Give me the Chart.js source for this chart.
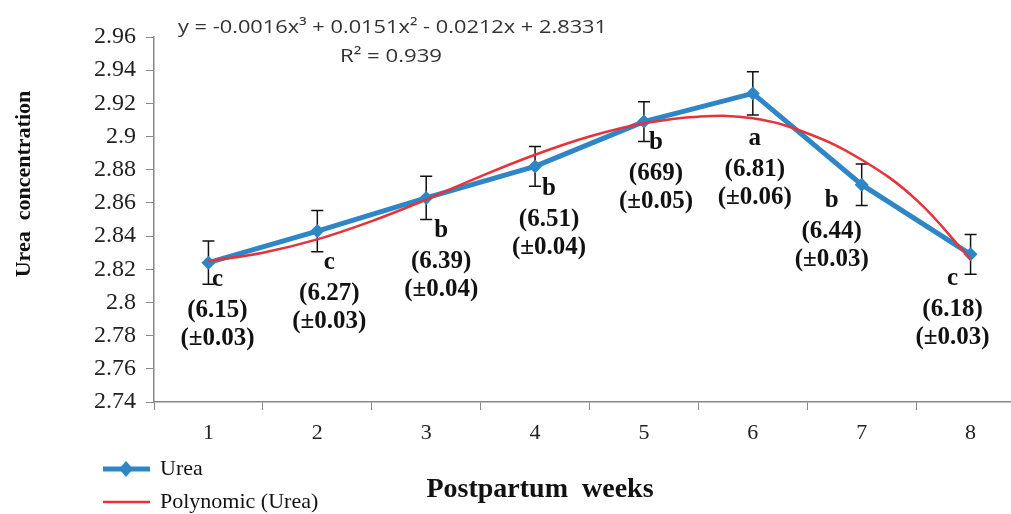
<!DOCTYPE html>
<html>
<head>
<meta charset="utf-8">
<script src="https://cdn.jsdelivr.net/npm/chart.js@4.4.0/dist/chart.umd.min.js"></script>
<style>
  html, body { margin: 0; padding: 0; background: #fff; overflow: hidden; }
  #wrap { width: 1011px; height: 514px; overflow: hidden; }
</style>
</head>
<body>
<div id="wrap"><canvas id="chart" width="1032" height="514"></canvas></div>
<script>
// Values
const weeks = ["1", "2", "3", "4", "5", "6", "7", "8"]
const urea = [2.824, 2.843, 2.863, 2.882, 2.909, 2.926, 2.871, 2.829]
const ureaErr = [0.013, 0.0125, 0.013, 0.012, 0.012, 0.013, 0.0125, 0.012]
const letters = ["c", "c", "b", "b", "b", "a", "b", "c"]
const means = ["(6.15)", "(6.27)", "(6.39)", "(6.51)", "(669)", "(6.81)", "(6.44)", "(6.18)"]
const sds = ["(±0.03)", "(±0.03)", "(±0.04)", "(±0.04)", "(±0.05)", "(±0.06)", "(±0.03)", "(±0.03)"]

// Polynomial trend line, read at half-week steps
const trendX = [1, 1.5, 2, 2.5, 3, 3.5, 4, 4.5, 5, 5.5, 6, 6.5, 7, 7.5, 8]
const trendY = [2.825, 2.830, 2.838, 2.849, 2.862, 2.876, 2.889, 2.900, 2.908, 2.912, 2.911, 2.902, 2.886, 2.862, 2.826]

const equation = "y = -0.0016x³ + 0.0151x² - 0.0212x + 2.8331"
const rSquared = "R² = 0.939"

// label block offsets from each point (px): [dx, dy of letter]
const labelOffsets = [[9, 19], [12, 33], [15, 35], [14, 24], [12, 23], [2, 47], [-30, 18], [-18, 26]]

const BLUE = "#2e86c6"
const RED = "#e8323a"
const SERIF = "'Liberation Serif', 'Times New Roman', serif"

// draw text stretched to a given width
const stretchText = (ctx, text, x, y, width) => {
  const w = ctx.measureText(text).width
  ctx.save()
  ctx.translate(x, y)
  ctx.scale(width / w, 1)
  ctx.fillText(text, 0, 0)
  ctx.restore()
}

const decor = {
  id: "decor",
  beforeDatasetsDraw(chart) {
    const { ctx, scales } = chart
    ctx.save()
    ctx.strokeStyle = "#111"
    ctx.lineWidth = 1.5
    urea.forEach((v, i) => {
      const x = scales.x.getPixelForValue(i)
      const y1 = scales.y.getPixelForValue(v + ureaErr[i])
      const y2 = scales.y.getPixelForValue(v - ureaErr[i])
      ctx.beginPath()
      ctx.moveTo(x, y1); ctx.lineTo(x, y2)
      ctx.moveTo(x - 6, y1); ctx.lineTo(x + 6, y1)
      ctx.moveTo(x - 6, y2); ctx.lineTo(x + 6, y2)
      ctx.stroke()
    })
    ctx.restore()
  },
  afterDraw(chart) {
    const { ctx, scales } = chart
    ctx.save()
    ctx.fillStyle = "#111"
    ctx.textAlign = "center"
    ctx.textBaseline = "middle"
    ctx.font = "bold 25px " + SERIF
    urea.forEach((v, i) => {
      const x = scales.x.getPixelForValue(i) + labelOffsets[i][0]
      const y = scales.y.getPixelForValue(v) + labelOffsets[i][1]
      ctx.fillText(letters[i], x, y - 2)
      ctx.fillText(means[i], x, y + 29)
      ctx.fillText(sds[i], x, y + 57)
    })

    // trendline equation
    ctx.fillStyle = "#333"
    ctx.font = "19px 'Open Sans', sans-serif"
    ctx.textAlign = "left"
    stretchText(ctx, equation, 178, 28, 429)
    stretchText(ctx, rSquared, 340, 57, 102)

    // axis titles
    ctx.fillStyle = "#111"
    ctx.textAlign = "center"
    ctx.font = "bold 28px " + SERIF
    ctx.fillText("Postpartum  weeks", 540, 490)
    ctx.save()
    ctx.translate(24, 184)
    ctx.rotate(-Math.PI / 2)
    ctx.font = "bold 22px " + SERIF
    ctx.fillText("Urea  concentration", 0, 0)
    ctx.restore()

    // legend
    ctx.textAlign = "left"
    ctx.font = "22px " + SERIF
    ctx.strokeStyle = BLUE
    ctx.lineWidth = 5
    ctx.beginPath(); ctx.moveTo(103, 469); ctx.lineTo(150, 469); ctx.stroke()
    ctx.fillStyle = BLUE
    ctx.beginPath()
    ctx.moveTo(126, 461); ctx.lineTo(133, 469); ctx.lineTo(126, 477); ctx.lineTo(119, 469)
    ctx.closePath(); ctx.fill()
    ctx.strokeStyle = RED
    ctx.lineWidth = 2.5
    ctx.beginPath(); ctx.moveTo(103, 502); ctx.lineTo(150, 502); ctx.stroke()
    ctx.fillStyle = "#111"
    ctx.fillText("Urea", 160, 469)
    ctx.fillText("Polynomic (Urea)", 160, 502)
    ctx.restore()
  }
}

new Chart(document.getElementById("chart"), {
  type: "line",
  data: {
    labels: weeks,
    datasets: [
      {
        label: "Polynomic (Urea)",
        data: trendX.map((x, i) => ({ x, y: trendY[i] })),
        xAxisID: "x2",
        borderColor: RED,
        borderWidth: 2.5,
        pointRadius: 0,
        tension: 0.4,
        order: 0,
      },
      {
        label: "Urea",
        data: urea,
        borderColor: BLUE,
        backgroundColor: BLUE,
        borderWidth: 5,
        pointStyle: "rectRot",
        pointRadius: 7,
        pointBorderWidth: 0,
        pointBackgroundColor: BLUE,
        tension: 0,
        order: 1,
      },
    ],
  },
  options: {
    responsive: false,
    animation: false,
    layout: { padding: { left: 10, top: 37, right: 6, bottom: 0 } },
    plugins: {
      legend: { display: false },
      tooltip: { enabled: false },
    },
    scales: {
      x: {
        type: "category",
        offset: true,
        afterFit: (s) => { s.height = 112 },
        grid: { offset: true, drawOnChartArea: false, tickLength: 8, color: "#888" },
        border: { color: "#888", width: 1.5 },
        ticks: { color: "#222", font: { family: SERIF, size: 22 }, padding: 10 },
      },
      x2: { type: "linear", min: 0.5, max: 8.5, display: false },
      y: {
        min: 2.74,
        max: 2.96,
        afterFit: (s) => { s.width = 144 },
        grid: { drawOnChartArea: false, tickLength: 8, color: "#888" },
        border: { color: "#888", width: 1.5 },
        ticks: {
          stepSize: 0.02,
          color: "#222",
          padding: 10,
          font: { family: SERIF, size: 24 },
          callback: (v) => String(Number(v.toFixed(2))),
        },
      },
    },
  },
  plugins: [decor],
})
</script>
</body>
</html>
